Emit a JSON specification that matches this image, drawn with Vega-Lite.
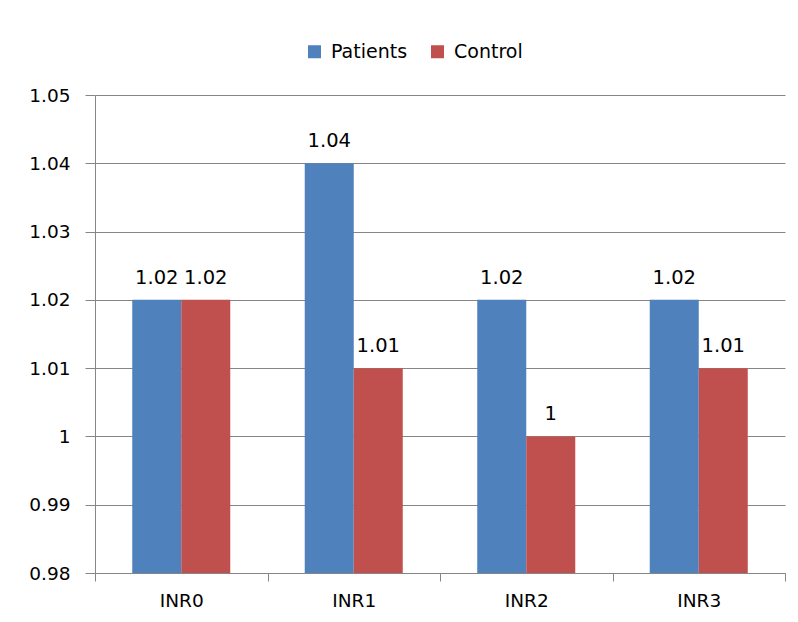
{
  "$schema": "https://vega.github.io/schema/vega-lite/v6.json",
  "width": 690,
  "height": 478,
  "autosize": {"type": "none"},
  "padding": {"left": 95, "top": 95, "right": 13, "bottom": 49},
  "background": "white",
  "data": {
    "values": [
      {"cat": "INR0", "group": "Patients", "value": 1.02},
      {"cat": "INR0", "group": "Control", "value": 1.02},
      {"cat": "INR1", "group": "Patients", "value": 1.04},
      {"cat": "INR1", "group": "Control", "value": 1.01},
      {"cat": "INR2", "group": "Patients", "value": 1.02},
      {"cat": "INR2", "group": "Control", "value": 1.0},
      {"cat": "INR3", "group": "Patients", "value": 1.02},
      {"cat": "INR3", "group": "Control", "value": 1.01}
    ]
  },
  "encoding": {
    "x": {
      "field": "cat", "type": "nominal",
      "scale": {"paddingInner": 0, "paddingOuter": 0},
      "axis": {
        "title": null, "labelAngle": 0, "tickBand": "extent",
        "labelFont": "DejaVu Sans", "labelFontSize": 18.5, "labelColor": "#000000",
        "labelPadding": 10, "domainColor": "#868686", "tickColor": "#868686", "tickSize": 8
      }
    },
    "xOffset": {
      "field": "group", "type": "nominal", "sort": ["Patients", "Control"],
      "scale": {"paddingInner": 0, "paddingOuter": 0.76}
    },
    "y": {
      "field": "value", "type": "quantitative",
      "scale": {"domain": [0.98, 1.05], "zero": false, "nice": false},
      "axis": {
        "title": null, "values": [0.98, 0.99, 1.0, 1.01, 1.02, 1.03, 1.04, 1.05],
        "format": "~g", "grid": true, "gridColor": "#868686",
        "domainColor": "#868686", "tickColor": "#868686", "tickSize": 10,
        "labelFont": "DejaVu Sans", "labelFontSize": 18.5, "labelColor": "#000000", "labelPadding": 15
      }
    }
  },
  "layer": [
    {
      "mark": {"type": "bar"},
      "encoding": {
        "y2": {"datum": 0.98},
        "color": {
          "field": "group", "type": "nominal", "sort": ["Patients", "Control"],
          "scale": {"domain": ["Patients", "Control"], "range": ["#4F81BD", "#C0504D"]},
          "legend": {
            "title": null, "orient": "none", "direction": "horizontal",
            "legendX": 210, "legendY": -53,
            "symbolType": "square", "symbolSize": 169, "symbolStrokeWidth": 0,
            "labelFont": "DejaVu Sans", "labelFontSize": 19, "labelColor": "#000000",
            "columnPadding": 20, "labelOffset": 7
          }
        }
      }
    },
    {
      "mark": {"type": "text", "dy": -16, "baseline": "alphabetic", "font": "DejaVu Sans", "fontSize": 19.5, "color": "#000000"},
      "encoding": {
        "text": {"field": "value", "type": "quantitative", "format": "~g"}
      }
    }
  ],
  "config": {"view": {"stroke": null}}
}
